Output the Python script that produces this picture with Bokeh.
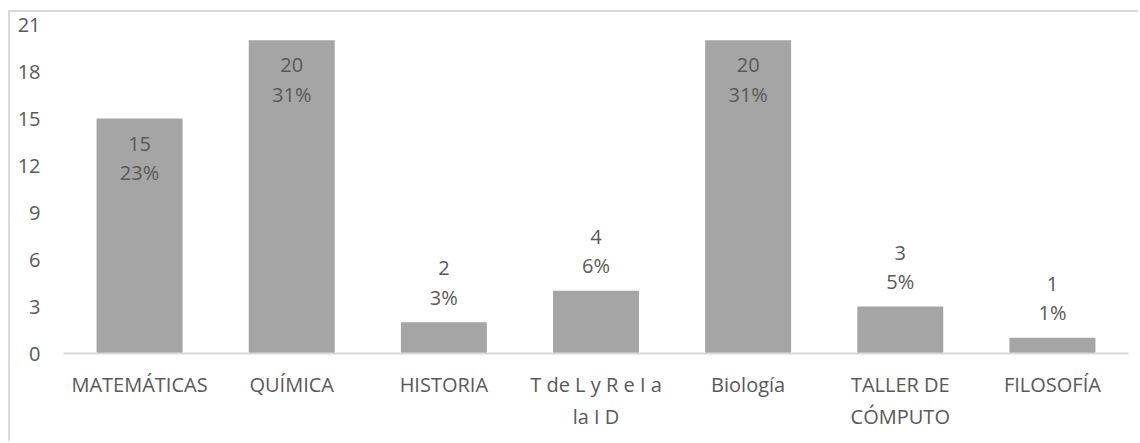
from bokeh.plotting import figure
from bokeh.models import ColumnDataSource, Range1d, FixedTicker
from bokeh.core.properties import value
from bokeh.embed import file_html
from bokeh.resources import INLINE

# Subjects, counts and share labels
subjects = ["MATEMÁTICAS", "QUÍMICA", "HISTORIA", "T de L y R e I a\nla I D",
            "Biología", "TALLER DE\nCÓMPUTO", "FILOSOFÍA"]
counts = [15, 20, 2, 4, 20, 3, 1]
shares = ["23%", "31%", "3%", "6%", "31%", "5%", "1%"]
y_ticks = [0, 3, 6, 9, 12, 15, 18, 21]

FONT = "Open Sans"
TEXT = "#595959"
GRID = "#D9D9D9"
BAR = "#A5A5A5"

# Tall bars carry their labels inside, short ones above (screen offsets, +down)
inside = [c > 10 for c in counts]
src = ColumnDataSource(dict(
    x=subjects,
    top=counts,
    count_txt=[str(c) for c in counts],
    share_txt=shares,
    off1=[25 if i else -54 for i in inside],
    off2=[54 if i else -25 for i in inside],
))

# The chart area sits 8px in / 10px down with a light border on its top-left
p = figure(x_range=subjects, y_range=Range1d(0, 21), width=1130, height=431,
           output_backend="svg", toolbar_location=None,
           margin=(10, 0, 0, 8),
           styles={"border-top": f"2px solid {GRID}", "border-left": f"2px solid {GRID}"},
           min_border_left=53, min_border_right=12, min_border_top=12, min_border_bottom=90)

p.vbar(x="x", top="top", width=0.565, source=src, fill_color=BAR, line_color=None)

p.text(x="x", y="top", text="count_txt", source=src, y_offset="off1",
       text_align="center", text_baseline="middle", text_font=value(FONT),
       text_font_size="20px", text_color=TEXT)
p.text(x="x", y="top", text="share_txt", source=src, y_offset="off2",
       text_align="center", text_baseline="middle", text_font=value(FONT),
       text_font_size="20px", text_color=TEXT)

p.x_range.range_padding = 0
p.xgrid.visible = False
p.ygrid.visible = False
p.outline_line_color = None

p.yaxis.ticker = FixedTicker(ticks=y_ticks)
p.yaxis.axis_line_color = None
p.yaxis.major_tick_line_color = None
p.yaxis.major_tick_out = 0
p.yaxis.minor_tick_line_color = None
p.yaxis.major_label_standoff = 23
p.yaxis.major_label_text_font = FONT
p.yaxis.major_label_text_font_size = "20px"
p.yaxis.major_label_text_color = TEXT

p.xaxis.axis_line_color = GRID
p.xaxis.axis_line_width = 2
p.xaxis.major_tick_line_color = None
p.xaxis.major_tick_out = 0
p.xaxis.minor_tick_line_color = None
p.xaxis.major_label_standoff = 17
p.xaxis.major_label_text_font = FONT
p.xaxis.major_label_text_font_size = "20px"
p.xaxis.major_label_text_color = TEXT

open("out.html", "w").write(file_html(p, INLINE))
